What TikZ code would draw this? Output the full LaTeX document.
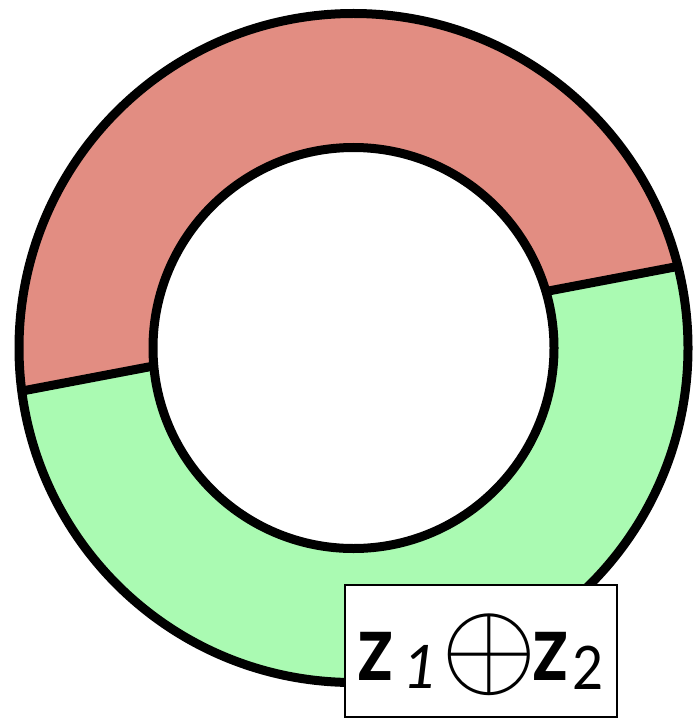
\documentclass[tikz,border=0pt]{standalone}
\usepackage{fontspec}
\usepackage{graphicx}
\setmainfont{Lato}
\definecolor{ringred}{RGB}{226,141,130}
\definecolor{ringgreen}{RGB}{170,250,178}
\tikzset{
  ringline/.style={line width=9pt, black},
  labelbox/.style={draw=black, line width=2pt, fill=white, minimum width=272pt, minimum height=132pt, inner sep=0pt, text height=58pt, text depth=0pt}
}
\newcommand{\bigz}{\scalebox{0.84}[1]{\fontsize{94}{94}\selectfont\bfseries z}}
\newcommand{\subone}{\raisebox{-8pt}{\fontsize{60}{60}\selectfont\itshape 1}}
\newcommand{\subtwo}{\raisebox{-9pt}{\scalebox{0.9}[1]{\fontsize{60}{60}\selectfont 2}}}
\newcommand{\xorsym}{\raisebox{-5pt}{\fontsize{10}{10}\selectfont\scalebox{12.3}{$\oplus$}}}
\begin{document}
\begin{tikzpicture}[x=1pt,y=-1pt]
\useasboundingbox (0,0) rectangle (695,719);
\coordinate (c) at (353.5,348);
\coordinate (chordL) at (-100,414.2);
\coordinate (chordR) at (800,243.2);
% outer disk green
\fill[ringgreen] (c) circle (334.5);
% red upper part
\begin{scope}
  \clip (c) circle (334.5);
  \fill[ringred] (chordL) -- (chordR) -- (800,-100) -- (-100,-100) -- cycle;
  \draw[ringline] (chordL) -- (chordR);
\end{scope}
% inner hole
\fill[white] (c) circle (200.5);
\draw[ringline] (c) circle (200.5);
\draw[ringline] (c) circle (334.5);
% label
\node[labelbox] (label) at (481,651) {\hbox to 272pt{\kern12pt\rlap{\bigz}\kern46pt\rlap{\subone}\kern38pt\rlap{\xorsym}\kern91pt\rlap{\bigz}\kern40pt\rlap{\subtwo}\hfil}};
\end{tikzpicture}
\end{document}
